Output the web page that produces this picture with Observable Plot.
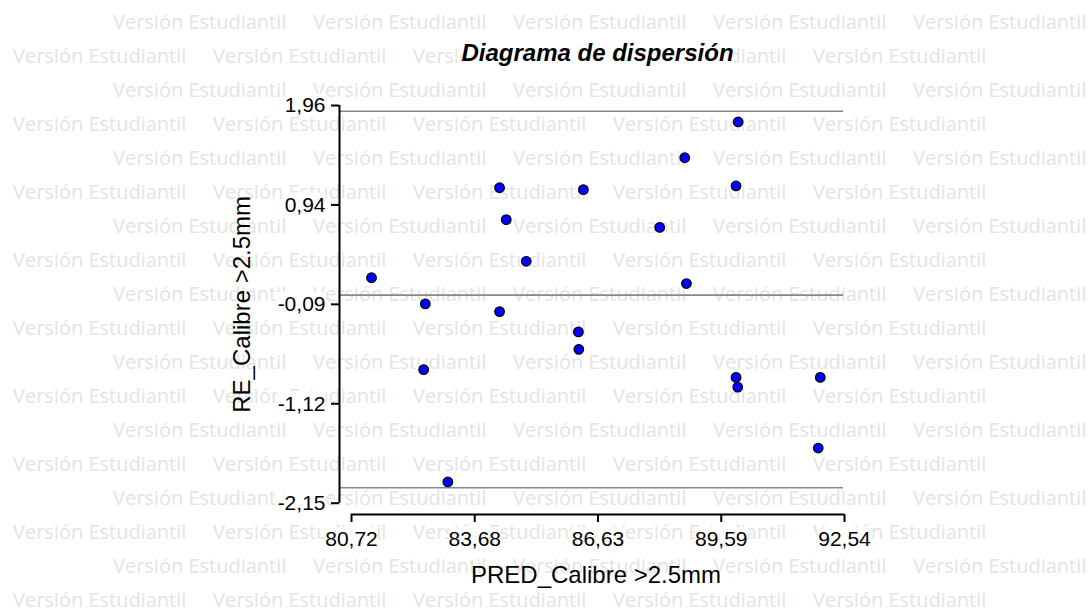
<!DOCTYPE html>
<html>
<head>
<meta charset="utf-8">
<script src="https://cdn.jsdelivr.net/npm/d3@7"></script>
<script src="https://cdn.jsdelivr.net/npm/@observablehq/plot@0.6"></script>
<style>
  html, body { margin: 0; padding: 0; background: #fff; }
  #wrap { position: relative; width: 1090px; height: 612px; overflow: hidden; }
  #wm { position: absolute; left: 0; top: 0; }
  #chart { position: absolute; left: 0; top: 0; }
  #title {
    position: absolute; top: 40.7px; left: 597.5px; transform: translateX(-50%);
    font: italic bold 24px "Liberation Sans", Arial, sans-serif; line-height: 24px;
    background: #fff; color: #000; white-space: nowrap;
  }
</style>
</head>
<body>
<div id="wrap">
  <svg id="wm" width="1090" height="612"></svg>
  <div id="chart"></div>
  <div id="title"></div>
</div>
<script>
// ---- data ----
const predX = [81.20, 82.49, 82.45, 83.03, 84.27, 84.43, 84.91, 84.27, 86.28, 86.16,
               86.17, 88.11, 88.71, 88.75, 89.99, 89.94, 89.94, 89.98, 91.96, 91.91];
const resY  = [0.18, -0.09, -0.77, -1.93, 1.11, 0.78, 0.35, -0.17, 1.09, -0.38,
               -0.56, 0.70, 1.42, 0.12, 1.79, 1.13, -0.85, -0.95, -0.85, -1.58];
const refLines = [1.90, 0.00, -1.99];
const xDomain = [80.72, 92.54];
const yDomain = [-2.15, 1.96];
const xTickLabels = ["80,72", "83,68", "86,63", "89,59", "92,54"];
const yTickLabels = ["-2,15", "-1,12", "-0,09", "0,94", "1,96"];
const titleText = "Diagrama de dispersión";
const xLabel = "PRED_Calibre >2.5mm";
const yLabel = "RE_Calibre >2.5mm";
const watermarkText = "Versión Estudiantil";

// ---- watermark background ----
const wm = d3.select("#wm");
for (let k = 0; k < 18; k++) {
  const x0 = (k % 2 === 0) ? 113 : 13;
  for (let j = 0; j < 5; j++) {
    wm.append("text")
      .attr("x", x0 + 200 * j).attr("y", 29 + 34 * k)
      .attr("font-family", "'Open Sans', sans-serif")
      .attr("font-size", 20)
      .attr("fill", "#e3e3e3")
      .text(watermarkText);
  }
}

document.getElementById("title").textContent = titleText;

// ---- chart ----
const data = predX.map((x, i) => ({x, y: resY[i]}));
const xTicks = d3.range(5).map(i => xDomain[0] + i * (xDomain[1] - xDomain[0]) / 4);
const yTicks = d3.range(5).map(i => yDomain[0] + i * (yDomain[1] - yDomain[0]) / 4);
const fmt = (ticks, labels) => d => labels[ticks.findIndex(t => Math.abs(t - d) < 1e-9)];

const plot = Plot.plot({
  width: 1090, height: 612,
  marginLeft: 351, marginRight: 246, marginTop: 105, marginBottom: 109.3,
  style: {background: "transparent", fontFamily: "'Liberation Sans', Arial, sans-serif", color: "#000"},
  x: {domain: xDomain},
  y: {domain: yDomain},
  marks: [
    Plot.ruleY(refLines, {stroke: "#878787", strokeWidth: 1.6, insetLeft: -12, insetRight: 1}),
    Plot.ruleX([xDomain[0]], {dx: -12, stroke: "#000", strokeWidth: 2}),
    Plot.ruleY([yDomain[0]], {dy: 11.3, stroke: "#000", strokeWidth: 2}),
    Plot.axisX(xTicks, {tickFormat: fmt(xTicks, xTickLabels), tickSize: 8, tickPadding: 9,
      dy: 11.3, fontSize: 21, strokeWidth: 2, color: "#000", label: null}),
    Plot.axisY(yTicks, {tickFormat: fmt(yTicks, yTickLabels), tickSize: 8, tickPadding: 6,
      dx: -12, fontSize: 21, strokeWidth: 2, color: "#000", label: null}),
    Plot.dot(data, {x: "x", y: "y", r: 4.8, fill: "#0000ff", stroke: "#000", strokeWidth: 1.2}),
    Plot.text([xLabel], {frameAnchor: "bottom", lineAnchor: "middle", textAnchor: "middle",
      dy: 72, dx: -2, fontSize: 24, fill: "#000", ariaLabel: "axislabel"}),
    Plot.text([yLabel], {frameAnchor: "left", lineAnchor: "middle", textAnchor: "middle", rotate: -90,
      dx: -109.5, fontSize: 24, fill: "#000", ariaLabel: "axislabel"})
  ]
});
document.getElementById("chart").append(plot);

// white boxes behind the texts (they hide the watermark in the reference)
const texts = plot.querySelectorAll(
  'g[aria-label="x-axis tick label"] text, g[aria-label="y-axis tick label"] text, g[aria-label="axislabel"] text');
texts.forEach(t => {
  const b = t.getBBox();
  const r = document.createElementNS("http://www.w3.org/2000/svg", "rect");
  r.setAttribute("x", b.x); r.setAttribute("y", b.y);
  r.setAttribute("width", b.width); r.setAttribute("height", b.height);
  r.setAttribute("fill", "#fff"); r.setAttribute("stroke", "none");
  const tr = t.getAttribute("transform");
  if (tr) r.setAttribute("transform", tr);
  t.parentNode.insertBefore(r, t);
});
</script>
</body>
</html>
